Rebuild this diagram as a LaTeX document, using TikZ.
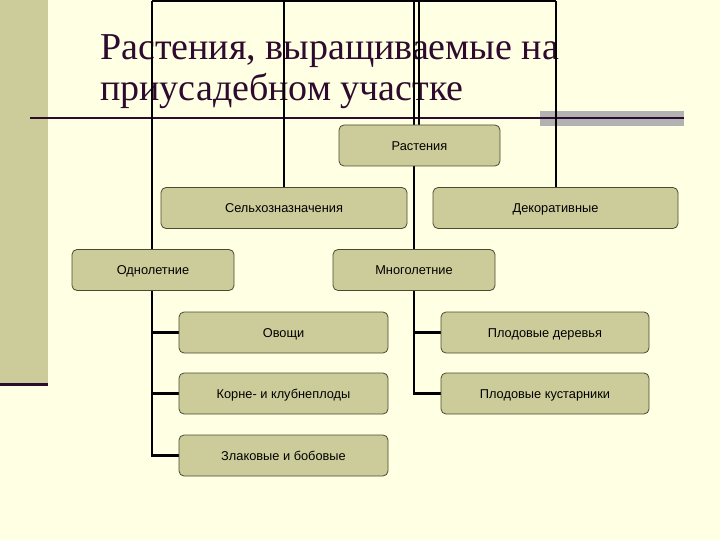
\documentclass[tikz,border=0pt]{standalone}
\usepackage{fontspec}
\setmainfont{Liberation Serif}
\newfontfamily\boxfont{Liberation Sans}
\usetikzlibrary{backgrounds}
\definecolor{bg}{HTML}{FFFFE3}
\definecolor{khaki}{HTML}{CCCC9A}
\definecolor{edge}{HTML}{4A4A30}
\definecolor{titlec}{HTML}{2E0A2E}
\definecolor{grayblk}{HTML}{B2B2B2}
\begin{document}
\begin{tikzpicture}[x=1pt,y=-1pt,
  box/.style={draw=edge, fill=khaki, rounded corners=5pt, line width=0.8pt,
    font=\boxfont\fontsize{12.8}{15}\selectfont, inner sep=0pt, minimum height=41pt,
    text height=9.2pt, text depth=-1.2pt},
  conn/.style={line width=2.4pt, black},
  titletext/.style={anchor=base west, inner sep=0pt, text=titlec, font=\fontsize{38}{43}\selectfont}]
\useasboundingbox (0,0) rectangle (720,540);
% boxes
\node[box, minimum width=161pt] (rast) at (419.5,145.5) {Растения};
\node[box, minimum width=246pt] (selh) at (284,208) {Сельхозназначения};
\node[box, minimum width=245pt] (deko) at (555.5,208) {Декоративные};
\node[box, minimum width=162pt] (odn) at (153,270) {Однолетние};
\node[box, minimum width=162pt] (mnog) at (414,270) {Многолетние};
\node[box, minimum width=209pt] (ovo) at (283.5,332.5) {Овощи};
\node[box, minimum width=209pt] (korn) at (283.5,393.5) {Корне- и клубнеплоды};
\node[box, minimum width=209pt] (zlak) at (283.5,455.5) {Злаковые и бобовые};
\node[box, minimum width=208pt] (pder) at (545,332.5) {Плодовые деревья};
\node[box, minimum width=208pt] (pkus) at (545,393.5) {Плодовые кустарники};
% top coordinates
\coordinate (ta) at (152,1.2);
\coordinate (tb) at (284,1.2);
\coordinate (tc) at (414,1.2);
\coordinate (td) at (419,1.2);
\coordinate (te) at (556,1.2);
\begin{scope}[on background layer]
\fill[bg] (0,0) rectangle (720,540);
\fill[khaki] (0,0) rectangle (47.5,384);
\fill[titlec] (0,383) rectangle (48,386);
\fill[grayblk] (540,111) rectangle (684,126);
\draw[titlec, line width=1.2pt] (30,118) -- (684,118);
\node[titletext] (t1) at (100,60) {Растения, выращиваемые на};
\node[titletext] (t2) at (100,101) {приусадебном участке};
% connectors
\draw[conn] (ta) -- (te);
\draw[conn] (ta) -- (ta |- odn.north);
\draw[conn] (tb) -- (tb |- selh.north);
\draw[conn] (tc) -- (tc |- rast.north);
\draw[conn] (td) -- (td |- rast.north);
\draw[conn] (te) -- (te |- deko.north);
\draw[conn] (tc |- rast.south) -- (tc |- mnog.north);
\draw[conn] (ta |- odn.south) -- (ta |- zlak.west) -- (zlak.west);
\draw[conn] (ta |- ovo.west) -- (ovo.west);
\draw[conn] (ta |- korn.west) -- (korn.west);
\draw[conn] (tc |- mnog.south) -- (tc |- pkus.west) -- (pkus.west);
\draw[conn] (tc |- pder.west) -- (pder.west);
\end{scope}
\end{tikzpicture}
\end{document}
